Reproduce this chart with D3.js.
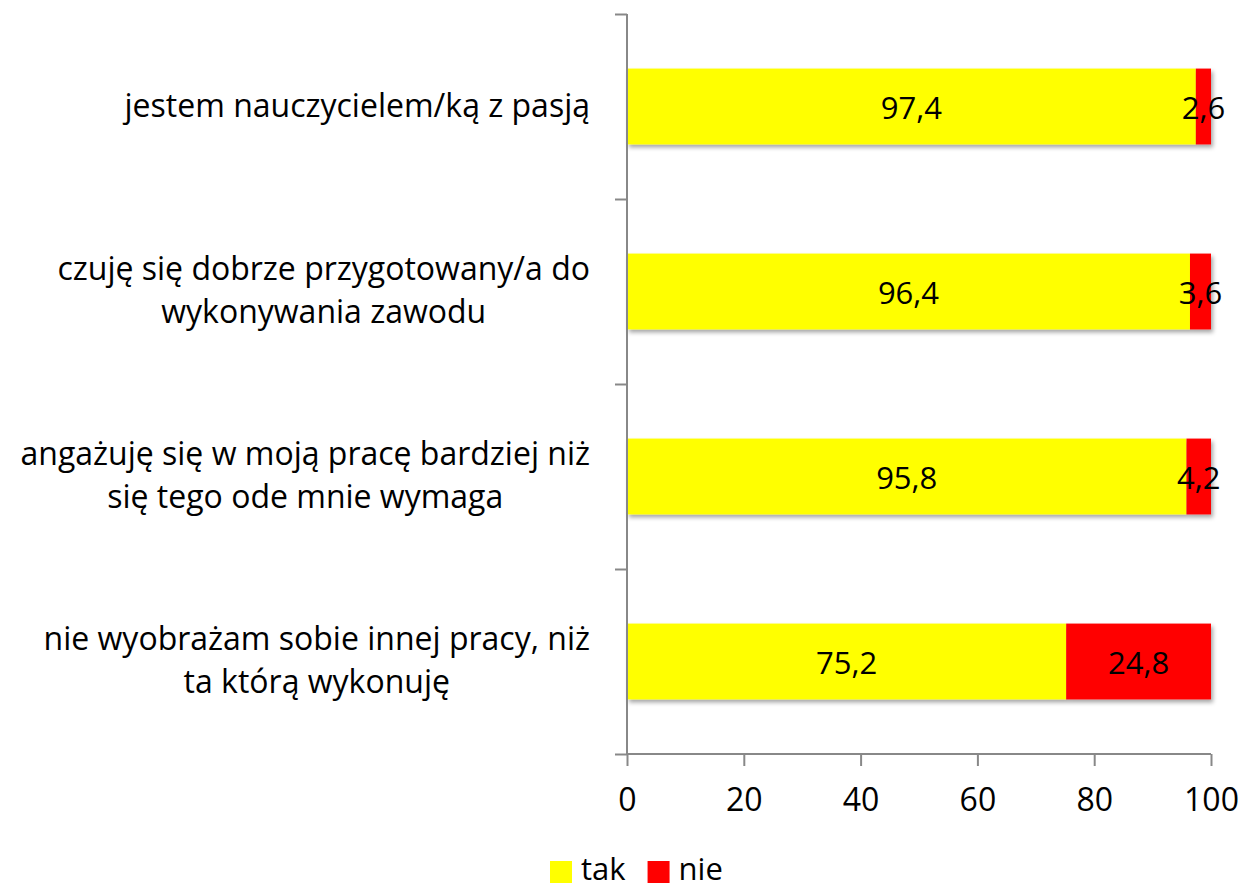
<!DOCTYPE html>
<html><head><meta charset="utf-8">
<script src="https://cdn.jsdelivr.net/npm/d3@7"></script>
<style>body{margin:0;background:#fff}svg{display:block}text{font-family:"Open Sans",sans-serif}</style>
</head><body><svg id="c" width="1243" height="885"></svg>
<script>
const categories = [
  ["jestem nauczycielem/ką z pasją"],
  ["czuję się dobrze przygotowany/a do","wykonywania zawodu"],
  ["angażuję się w moją pracę bardziej niż","się tego ode mnie wymaga"],
  ["nie wyobrażam sobie innej pracy, niż","ta którą wykonuję"]
];
const takValues = [97.4, 96.4, 95.8, 75.2];
const nieValues = [2.6, 3.6, 4.2, 24.8];
const seriesNames = ["tak","nie"];
const seriesColors = ["#FFFF00","#FF0000"];
const xTicks = [0,20,40,60,80,100];

(function(){
const svg = d3.select("#c");
const pL = 627, pR = 1211, pT = 14, pB = 754;
const fsCat = 32, fsVal = 31;
const x = d3.scaleLinear().domain([0,100]).range([pL,pR]);
const idx = categories.map((d,i)=>i);
const y = d3.scaleBand().domain(idx).range([pT,pB]).paddingInner(0.59).paddingOuter(0.295);

const defs = svg.append("defs");
const f = defs.append("filter").attr("id","sh").attr("x","-5%").attr("y","-20%").attr("width","115%").attr("height","160%");
f.append("feDropShadow").attr("dx",2).attr("dy",3).attr("stdDeviation",2).attr("flood-color","#000").attr("flood-opacity",0.35);

const data = idx.map(i=>({i, segs:[{s:0,x0:0,x1:takValues[i],v:takValues[i]},{s:1,x0:takValues[i],x1:takValues[i]+nieValues[i],v:nieValues[i]}]}));

const g = svg.append("g");
data.forEach(d=>{
  const row = g.append("g").attr("filter","url(#sh)");
  row.selectAll("rect").data(d.segs).join("rect")
    .attr("x",s=>x(s.x0)).attr("width",s=>x(s.x1)-x(s.x0))
    .attr("y",y(d.i)).attr("height",y.bandwidth())
    .attr("fill",s=>seriesColors[s.s]);
});
data.forEach(d=>{
  g.append("g").selectAll("text").data(d.segs).join("text")
    .attr("x",s=>(x(s.x0)+x(s.x1))/2).attr("y",y(d.i)+y.bandwidth()/2+12)
    .attr("text-anchor","middle")
    .attr("font-size",fsVal).attr("fill","#000")
    .text(s=>String(s.v).replace(".",","));
});

// y axis
const yb = d3.scaleLinear().domain([0,categories.length]).range([pT,pB]);
const yAxis = svg.append("g").attr("transform",`translate(${pL},0)`)
  .call(d3.axisLeft(yb).tickValues(d3.range(categories.length+1)).tickSize(12).tickFormat(""));
yAxis.select(".domain").attr("stroke","#888").attr("stroke-width",2).attr("d",`M0,${pT}V${pB}`);
yAxis.selectAll(".tick line").attr("stroke","#888").attr("stroke-width",2);

// x axis
const xAxis = svg.append("g").attr("transform",`translate(0,${pB})`)
  .call(d3.axisBottom(x).tickValues(xTicks).tickSize(12).tickPadding(22));
xAxis.select(".domain").attr("stroke","#888").attr("stroke-width",2).attr("d",`M${pL},0H${pR}`);
xAxis.selectAll(".tick line").attr("stroke","#888").attr("stroke-width",2);
xAxis.selectAll(".tick text").attr("font-size",32).attr("fill","#000").attr("font-family","'Open Sans',sans-serif");

// category labels
const labelRight = 590, lh = 43;
categories.forEach((lines,i)=>{
  const cy = y(i)+y.bandwidth()/2;
  const t = svg.append("g");
  const texts = lines.map((ln,k)=>t.append("text").attr("font-size",fsCat).attr("fill","#000")
      .attr("text-anchor","middle")
      .attr("y",cy+(k-(lines.length-1)/2)*lh+10).text(ln));
  const w = d3.max(texts,tx=>tx.node().getComputedTextLength());
  texts.forEach(tx=>tx.attr("x",labelRight-w/2));
});

// legend
const leg = svg.append("g").attr("transform","translate(550,861)");
let lx = 0;
seriesNames.forEach((n,i)=>{
  leg.append("rect").attr("x",lx).attr("y",0).attr("width",22).attr("height",22).attr("fill",seriesColors[i]);
  const t = leg.append("text").attr("x",lx+31).attr("y",19).attr("font-size",31).text(n);
  lx += 31 + t.node().getComputedTextLength() + 22;
});
})();
</script></body></html>
